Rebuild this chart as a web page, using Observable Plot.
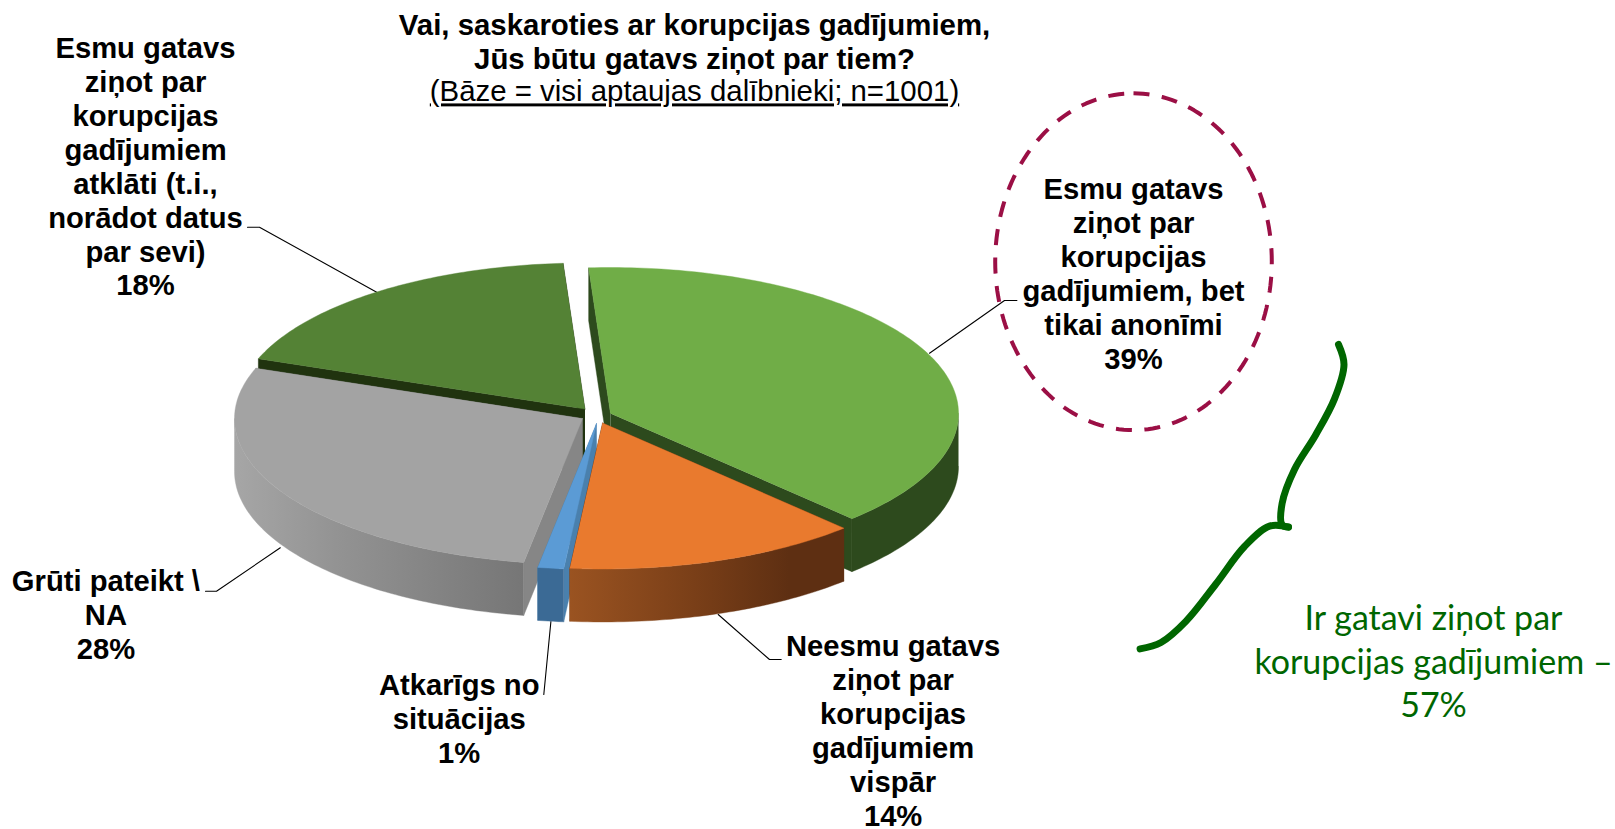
<!DOCTYPE html>
<html lang="lv">
<head>
<meta charset="utf-8">
<title>Vai, saskaroties ar korupcijas gadījumiem</title>
<script src="https://cdn.jsdelivr.net/npm/d3@7"></script>
<script src="https://cdn.jsdelivr.net/npm/@observablehq/plot@0.6"></script>
<style>
html,body{margin:0;padding:0;background:#fff}
svg{display:block}
.under text{text-decoration:underline}
</style>
</head>
<body>
<div id="chart"></div>
<script>
// --- data
const categories = [
  "Esmu gatavs\nziņot par\nkorupcijas\ngadījumiem, bet\ntikai anonīmi",
  "Neesmu gatavs\nziņot par\nkorupcijas\ngadījumiem\nvispār",
  "Atkarīgs no\nsituācijas",
  "Grūti pateikt \\\nNA",
  "Esmu gatavs\nziņot par\nkorupcijas\ngadījumiem\natklāti (t.i.,\nnorādot datus\npar sevi)"
];
const shares = [38.8, 13.7, 1.2, 27.9, 18.4];
const titleText = "Vai, saskaroties ar korupcijas gadījumiem,\nJūs būtu gatavs ziņot par tiem?";
const baseText = "(Bāze = visi aptaujas dalībnieki; n=1001)";
const sumText = "Ir gatavi ziņot par\nkorupcijas gadījumiem –\n57%";

// --- layout of the exploded pie (one centre per slice, pixel space)
const centers = [[610, 413], [602, 422.5], [596, 423], [582, 418], [584.5, 408.5]];
const rx = 348, ry = 146, depth = 53, startAngle = -3.6;
const topColors = ["#70AD47", "#E97A2E", "#5B9BD5", "#A3A3A3", "#548235"];
const cutColors = ["#2D4A1D", "#5E2F12", "#4A80AD", "#868686", "#20330F"];
const wallFills = ["#2D4A1D", "url(#wallOrange)", "#3B6A95", "url(#wallGrey)", "#20330F"];
const labelPos = [[1133, 272.5], [892.6, 729.5], [458.7, 717.5], [105.4, 614], [145, 165.5]];
const leaders = [
  [[929, 352.7], [1004, 300], [1016.4, 300]],
  [[717.7, 614], [769, 659], [780.7, 659]],
  [[550.4, 621], [543.3, 694]],
  [[279.8, 547.3], [216, 590.7], [205, 590.7]],
  [[378, 292.7], [259, 226.7], [247, 226.7]]
];
const braceUpper = [[1338, 344], [1343.5, 364], [1334, 398.4], [1315, 434.7], [1294, 469], [1281.6, 503], [1281.6, 524.4], [1288, 526.6]];
const braceLower = [[1288, 526.6], [1269, 525.7], [1244, 546], [1215, 584], [1185.6, 620.6], [1160.5, 642], [1139.6, 648.4]];

// --- geometry derived from the shares
const total = d3.sum(shares);
const cum = d3.cumsum(shares);
const rad = d => d * Math.PI / 180;
const rimPoint = (c, a, dz = 0) => [c[0] + rx * Math.sin(rad(a)), c[1] - ry * Math.cos(rad(a)) + dz];
const sweep = (a0, a1) => d3.range(0, 1.0001, 1 / Math.max(1, Math.ceil(a1 - a0))).map(t => a0 + (a1 - a0) * t);
const slices = shares.map((v, i) => {
  const a0 = startAngle + 360 * (i ? cum[i - 1] : 0) / total;
  const a1 = startAngle + 360 * cum[i] / total;
  const c = centers[i];
  const top = [c, ...sweep(a0, a1).map(a => rimPoint(c, a))];
  // only the front half of the rim shows a wall
  const w0 = Math.max(a0, 90), w1 = Math.min(a1, 270);
  const front = w1 > w0 ? sweep(w0, w1) : [];
  const wall = [...front.map(a => rimPoint(c, a)), ...front.slice().reverse().map(a => rimPoint(c, a, depth))];
  const cut = a => [c, rimPoint(c, a), rimPoint(c, a, depth), [c[0], c[1] + depth]];
  return {top, wall, cut0: cut(a0), cut1: cut(a1), i};
});

const poly = (pts, fill) => Plot.line(pts, {
  x: d => d[0], y: d => d[1], fill, stroke: fill, strokeWidth: 0.4, curve: "linear"
});

// --- gradients for the curved walls
const defsMark = () => {
  const defs = d3.create("svg:defs");
  const add = (id, stops) => {
    const g = defs.append("linearGradient").attr("id", id);
    stops.forEach(([o, c]) => g.append("stop").attr("offset", o).attr("stop-color", c));
  };
  add("wallGrey", [[0, "#A6A6A6"], [0.35, "#939393"], [1, "#767676"]]);
  add("wallOrange", [[0, "#9A5321"], [0.45, "#7A3F18"], [0.8, "#5E2F12"], [1, "#5E2F12"]]);
  return defs.node();
};

// back-to-front painting order
const order = [4, 0, 3, 2, 1];
const sliceMarks = order.flatMap(i => {
  const s = slices[i];
  return [
    poly(s.cut0, cutColors[i]),
    poly(s.cut1, cutColors[i]),
    ...(s.wall.length ? [poly(s.wall, wallFills[i])] : []),
    poly(s.top, topColors[i])
  ];
});

const font = "'Liberation Sans', Arial, sans-serif";
const labelRows = categories.map((c, i) => ({
  text: `${c}\n${Math.round(shares[i])}%`, x: labelPos[i][0], y: labelPos[i][1]
}));

const ellipsePoint = a => [1133 + 138.3 * Math.sin(rad(a)), 261.2 - 168.4 * Math.cos(rad(a))];
const ellipse = d3.range(0, 361, 2).map(ellipsePoint);

const chart = Plot.plot({
  width: 1615,
  height: 829,
  margin: 0,
  style: {background: "#fff"},
  x: {domain: [0, 1615], range: [0, 1615], axis: null},
  y: {domain: [0, 829], range: [0, 829], axis: null},
  marks: [
    defsMark,
    ...leaders.map(l => Plot.line(l, {x: d => d[0], y: d => d[1], stroke: "#000", strokeWidth: 1.1, curve: "linear"})),
    ...sliceMarks,
    Plot.line(ellipse, {x: d => d[0], y: d => d[1], stroke: "#9B0F45", strokeWidth: 4, strokeLinecap: "butt", strokeDasharray: "16,12.5", curve: "linear"}),
    Plot.line(braceUpper, {x: d => d[0], y: d => d[1], stroke: "#006600", strokeWidth: 7, curve: "catmull-rom"}),
    Plot.line(braceLower, {x: d => d[0], y: d => d[1], stroke: "#006600", strokeWidth: 7, curve: "catmull-rom"}),
    Plot.text(labelRows, {
      x: "x", y: "y", text: "text", fontFamily: font, fontWeight: "bold", fontSize: 29.2,
      lineHeight: 33.9 / 29.2, fill: "#000"
    }),
    Plot.text([titleText], {
      x: () => 694, y: () => 40.5, text: d => d, fontFamily: font, fontWeight: "bold", fontSize: 29.4,
      lineHeight: 34 / 29.4, fill: "#000"
    }),
    Plot.text([baseText], {
      x: () => 694, y: () => 91.5, text: d => d, fontFamily: font, fontSize: 29.4, fill: "#000", className: "under"
    }),
    Plot.text([sumText], {
      x: () => 1433, y: () => 659.5, text: d => d, fontFamily: "Lato, 'Open Sans', sans-serif", fontSize: 34,
      lineHeight: 43.5 / 34, fill: "#006600"
    })
  ]
});
document.getElementById("chart").append(chart);
</script>
</body>
</html>
